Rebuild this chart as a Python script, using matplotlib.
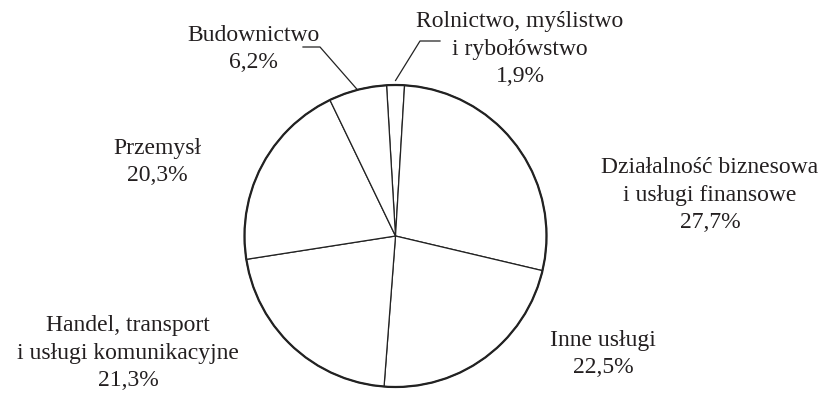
import numpy as np
import matplotlib.pyplot as plt
from matplotlib.patches import Circle

# Sector shares of value added (%)
sectors = [
    "Rolnictwo, myślistwo\ni rybołówstwo",
    "Działalność biznesowa\ni usługi finansowe",
    "Inne usługi",
    "Handel, transport\ni usługi komunikacyjne",
    "Przemysł",
    "Budownictwo",
]
shares = [1.9, 27.7, 22.5, 21.3, 20.3, 6.2]
share_labels = ["1,9%", "27,7%", "22,5%", "21,3%", "20,3%", "6,2%"]

# label anchor points in figure pixels (y up)
label_xy = [(520, 347), (710, 201), (603, 42), (128, 43), (157, 234), (253, 347)]

W, H = 823, 396
cx, cy, radius = 395.5, 160, 151
start = 93.4

plt.rcParams["font.family"] = ["Liberation Serif", "DejaVu Serif"]

fig = plt.figure(figsize=(W / 100, H / 100), dpi=100)
ax = fig.add_axes([0, 0, 1, 1])

wedges, _ = ax.pie(
    shares,
    startangle=start,
    counterclock=False,
    center=(cx, cy),
    radius=radius,
    colors=["white"] * len(shares),
    wedgeprops=dict(edgecolor="#222222", linewidth=0.9),
)
ax.add_patch(Circle((cx, cy), radius, fill=False, edgecolor="#222222", linewidth=1.6))

for name, pct, (x, y) in zip(sectors, share_labels, label_xy):
    ax.text(x, y, f"{name}\n{pct}", ha="center", va="center",
            fontsize=17, color="#231f20", linespacing=1.42)


def wedge_point(w, r_scale=1.0):
    ang = np.deg2rad((w.theta1 + w.theta2) / 2)
    return cx + radius * r_scale * np.cos(ang), cy + radius * r_scale * np.sin(ang)


# leader lines for the two thin slices
px, py = wedge_point(wedges[0], 1.03)
ax.plot([440, 420, px], [H - 41, H - 41, py], color="#222222", lw=0.9)
px, py = wedge_point(wedges[5], 1.0)
ax.plot([303, 320, px], [H - 47, H - 47, py], color="#222222", lw=0.9)

ax.set_xlim(0, W)
ax.set_ylim(0, H)
ax.set_aspect("equal")
ax.axis("off")

fig.savefig("out.png", dpi=100, facecolor="white")
